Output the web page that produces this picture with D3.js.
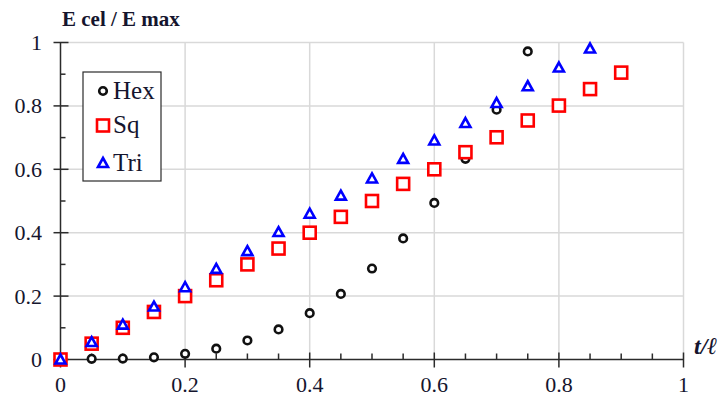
<!DOCTYPE html>
<html>
<head>
<meta charset="utf-8">
<script src="https://cdn.jsdelivr.net/npm/d3@7"></script>
<style>
  html, body { margin: 0; padding: 0; background: #fff; overflow: hidden; }
  svg { display: block; }
  text { font-family: "Liberation Serif", "Times New Roman", serif; fill: #15152e; }
</style>
</head>
<body>
<svg id="chart" width="721" height="398"></svg>
<script>
// Relative thickness t/ℓ
const tValues = [0, 0.05, 0.1, 0.15, 0.2, 0.25, 0.3, 0.35, 0.4, 0.45, 0.5, 0.55, 0.6, 0.65, 0.7, 0.75, 0.8, 0.85, 0.9];

// Normalised modulus E cel / E max per cell geometry
const hexValues = [0, 0.002, 0.003, 0.007, 0.018, 0.034, 0.06, 0.095, 0.146, 0.207, 0.287, 0.382, 0.494, 0.633, 0.788, 0.972];
const sqValues  = [0, 0.05, 0.1, 0.15, 0.2, 0.25, 0.3, 0.35, 0.4, 0.45, 0.5, 0.554, 0.6, 0.654, 0.701, 0.754, 0.801, 0.853, 0.905];
const triValues = [0, 0.055, 0.11, 0.167, 0.228, 0.286, 0.342, 0.402, 0.46, 0.517, 0.571, 0.633, 0.691, 0.746, 0.809, 0.862, 0.921, 0.981];

const seriesNames = ["Hex", "Sq", "Tri"];
const xMajorTicks = [0, 0.2, 0.4, 0.6, 0.8, 1];
const xMinorTicks = [0.05, 0.1, 0.15, 0.25, 0.3, 0.35, 0.45, 0.5, 0.55, 0.65, 0.7, 0.75, 0.85, 0.9, 0.95];
const yMajorTicks = [0, 0.2, 0.4, 0.6, 0.8, 1];
const yMinorTicks = [0.1, 0.3, 0.5, 0.7, 0.9];
const tickLabels  = ["0", "0.2", "0.4", "0.6", "0.8", "1"];

const svg = d3.select("#chart");
const x = d3.scaleLinear().domain([0, 1]).range([60.5, 683.5]);
const y = d3.scaleLinear().domain([0, 1]).range([359.5, 42.5]);

const grid = "#d9d9d9", axisCol = "#2b2b2b";

// gridlines
svg.append("g").selectAll("line").data(yMajorTicks.slice(1)).join("line")
  .attr("x1", x(0)).attr("x2", x(1)).attr("y1", d => y(d)).attr("y2", d => y(d))
  .attr("stroke", grid).attr("stroke-width", 1.5);
svg.append("g").selectAll("line").data(xMajorTicks.slice(1)).join("line")
  .attr("y1", y(0)).attr("y2", y(1)).attr("x1", d => x(d)).attr("x2", d => x(d))
  .attr("stroke", grid).attr("stroke-width", 1.5);

// y axis: major ticks cross the line, minor ticks point inwards
const yAxis = svg.append("g").attr("stroke", axisCol).attr("stroke-width", 1.5);
yAxis.append("line").attr("x1", x(0)).attr("x2", x(0)).attr("y1", y(0)).attr("y2", y(1));
yAxis.selectAll(".maj").data(yMajorTicks).join("line")
  .attr("x1", x(0) - 7).attr("x2", x(0) + 8).attr("y1", d => y(d)).attr("y2", d => y(d));
yAxis.selectAll(".min").data(yMinorTicks).join("line")
  .attr("x1", x(0)).attr("x2", x(0) + 5).attr("y1", d => y(d)).attr("y2", d => y(d));

// x axis
const xAxis = svg.append("g").attr("stroke", axisCol).attr("stroke-width", 1.5);
xAxis.append("line").attr("x1", x(0)).attr("x2", x(1)).attr("y1", y(0)).attr("y2", y(0));
xAxis.selectAll(".maj").data(xMajorTicks).join("line")
  .attr("x1", d => x(d)).attr("x2", d => x(d)).attr("y1", y(0) - 7).attr("y2", y(0) + 8);
xAxis.selectAll(".min").data(xMinorTicks).join("line")
  .attr("x1", d => x(d)).attr("x2", d => x(d)).attr("y1", y(0) - 6).attr("y2", y(0));

// tick labels
svg.append("g").selectAll("text").data(yMajorTicks).join("text")
  .attr("x", 42).attr("y", d => y(d)).attr("dy", "0.34em")
  .attr("text-anchor", "end").attr("font-size", 22)
  .text((d, i) => tickLabels[i]);
svg.append("g").selectAll("text").data(xMajorTicks).join("text")
  .attr("x", d => x(d)).attr("y", 392)
  .attr("text-anchor", "middle").attr("font-size", 22)
  .text((d, i) => tickLabels[i]);

// titles
svg.append("text").attr("x", 62).attr("y", 26)
  .attr("font-size", 21).attr("font-weight", "bold").text("E cel / E max");
svg.append("text").attr("x", 694).attr("y", 354)
  .attr("font-size", 24).attr("font-weight", "bold").attr("font-style", "italic").text("t/ℓ");

// markers
const markerStroke = 2.6;
function drawHex(g, cx, cy) {
  g.append("circle").attr("cx", cx).attr("cy", cy).attr("r", 3.8)
    .attr("fill", "#fff").attr("stroke", "#111").attr("stroke-width", markerStroke);
}
function drawSq(g, cx, cy) {
  g.append("rect").attr("x", cx - 6).attr("y", cy - 6).attr("width", 12).attr("height", 12)
    .attr("fill", "#fff").attr("stroke", "#ff0000").attr("stroke-width", markerStroke);
}
function drawTri(g, cx, cy) {
  g.append("path").attr("d", `M${cx},${cy - 5} L${cx + 5},${cy + 4} L${cx - 5},${cy + 4} Z`)
    .attr("fill", "#fff").attr("stroke", "#0000ff").attr("stroke-width", markerStroke)
    .attr("stroke-linejoin", "miter");
}

const pts = svg.append("g");
hexValues.forEach((v, i) => drawHex(pts, x(tValues[i]), y(v)));
sqValues.forEach((v, i) => drawSq(pts, x(tValues[i]), y(v)));
triValues.forEach((v, i) => drawTri(pts, x(tValues[i]), y(v)));

// legend
const lg = svg.append("g");
lg.append("rect").attr("x", 83).attr("y", 72).attr("width", 78).attr("height", 109)
  .attr("fill", "#fff").attr("stroke", axisCol).attr("stroke-width", 1.2);
const drawers = [drawHex, drawSq, drawTri];
const legendY = [91, 125.5, 163];
seriesNames.forEach((name, i) => {
  drawers[i](lg, 103, legendY[i]);
  lg.append("text").attr("x", 113).attr("y", legendY[i] + 7.5)
    .attr("font-size", 25).text(name);
});
</script>
</body>
</html>
